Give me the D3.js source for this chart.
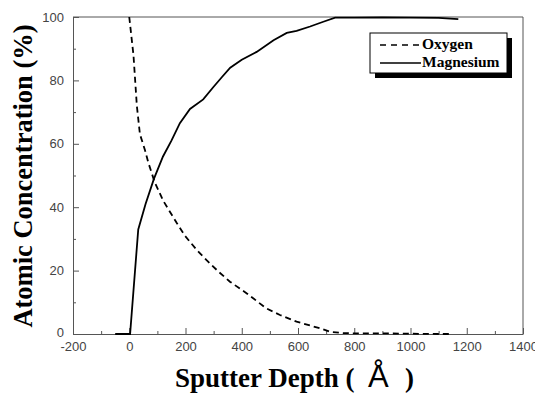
<!DOCTYPE html>
<html>
<head>
<meta charset="utf-8">
<script src="https://cdn.jsdelivr.net/npm/d3@7"></script>
<style>
  body { margin: 0; background: #fff; }
  .tick text { font-family: "Liberation Sans", Arial, sans-serif; font-size: 13px; fill: #444; }
</style>
</head>
<body>
<svg id="chart" width="535" height="394"></svg>
<script>
// sputter depth (angstrom) and concentration (%)
const oxygenDepth = [0, 15, 27, 38, 56, 68, 90, 121, 169, 198, 240, 275, 317, 358, 418, 487, 536, 595, 678, 714, 760, 800, 900, 1000, 1100, 1150];
const oxygenConc  = [100, 88, 72, 63, 58, 54, 48, 42, 35, 31, 26.5, 23.3, 19.7, 16.5, 12.8, 8.1, 6, 3.9, 1.8, 0.7, 0.3, 0.2, 0.2, 0.1, 0, 0];
const mgDepth = [-50, 3, 32, 58, 88, 120, 150, 180, 216, 263, 300, 329, 359, 400, 453, 513, 560, 595, 643, 690, 732, 800, 900, 1000, 1100, 1170];
const mgConc  = [0, 0, 33, 41, 49, 56, 61, 66.5, 71, 74, 78, 81, 84, 86.5, 89, 92.7, 95, 95.6, 97, 98.5, 99.8, 99.8, 99.9, 99.8, 99.7, 99.3];
const xTicks = [-200, 0, 200, 400, 600, 800, 1000, 1200, 1400];
const yTicks = [0, 20, 40, 60, 80, 100];
const seriesNames = ['Oxygen', 'Magnesium'];

const svg = d3.select('#chart');
const margin = { top: 17, right: 12, bottom: 60, left: 73 };
const width = 535, height = 394;
const contentWidth = width - margin.left - margin.right;
const contentHeight = height - margin.top - margin.bottom;

const g = svg.append('g')
  .attr('transform', 'translate(' + margin.left + ',' + margin.top + ')');

const xScale = d3.scaleLinear().domain([-200, 1400]).range([0, contentWidth]);
const yScale = d3.scaleLinear().domain([0, 100]).range([contentHeight, 0]);

// frame (top + right)
g.append('path')
  .attr('d', 'M0,0 H' + contentWidth + ' V' + contentHeight)
  .attr('fill', 'none').attr('stroke', '#555').attr('stroke-width', 1);

// minor ticks
const xMinor = d3.range(-100, 1400, 200);
const yMinor = d3.range(10, 100, 20);
g.append('g').attr('transform', 'translate(0,' + contentHeight + ')')
  .call(d3.axisBottom(xScale).tickValues(xMinor).tickSize(-3).tickFormat(''))
  .call(s => s.select('.domain').remove())
  .selectAll('line').attr('stroke', '#555');
g.append('g')
  .call(d3.axisLeft(yScale).tickValues(yMinor).tickSize(-3).tickFormat(''))
  .call(s => s.select('.domain').remove())
  .selectAll('line').attr('stroke', '#555');

// main axes
const xAxis = g.append('g').attr('class', 'x axis')
  .attr('transform', 'translate(0,' + contentHeight + ')')
  .call(d3.axisBottom(xScale).tickValues(xTicks).tickSizeInner(-6).tickSizeOuter(0).tickPadding(8).tickFormat(d => String(d)));
xAxis.select('.domain').attr('stroke', '#555');
xAxis.selectAll('line').attr('stroke', '#555');

const yAxis = g.append('g').attr('class', 'y axis')
  .call(d3.axisLeft(yScale).tickValues(yTicks).tickSizeInner(-6).tickSizeOuter(0).tickPadding(9));
yAxis.select('.domain').attr('stroke', '#555');
yAxis.selectAll('line').attr('stroke', '#555');
yAxis.selectAll('.tick').filter(d => d === 0).select('text').attr('dy', '0.2em');

// lines
const line = d3.line()
  .x(d => xScale(d[0]))
  .y(d => yScale(d[1]));

const oxygen = oxygenDepth.map((d, i) => [d, oxygenConc[i]]);
const magnesium = mgDepth.map((d, i) => [d, mgConc[i]]);

g.append('path')
  .datum(oxygen)
  .attr('fill', 'none').attr('stroke', '#000').attr('stroke-width', 1.8)
  .attr('stroke-dasharray', '6,4')
  .attr('d', line);

g.append('path')
  .datum(magnesium)
  .attr('fill', 'none').attr('stroke', '#000').attr('stroke-width', 1.8)
  .attr('d', line);

// legend
const lg = svg.append('g').attr('transform', 'translate(370,33)');
lg.append('rect').attr('x', 5).attr('y', 5).attr('width', 137).attr('height', 40).attr('fill', '#000');
lg.append('rect').attr('x', 0).attr('y', 0).attr('width', 137).attr('height', 40)
  .attr('fill', '#fff').attr('stroke', '#000').attr('stroke-width', 1);
seriesNames.forEach((name, i) => {
  const yy = 12 + i * 18;
  lg.append('line').attr('x1', 10).attr('x2', 51).attr('y1', yy).attr('y2', yy)
    .attr('stroke', '#000').attr('stroke-width', 1.5)
    .attr('stroke-dasharray', i === 0 ? '6,5' : null);
  lg.append('text').attr('x', 52).attr('y', yy + 4)
    .attr('font-family', '"Liberation Serif", "Times New Roman", serif')
    .attr('font-weight', 'bold').attr('font-size', 15.5)
    .text(name);
});

// axis titles
svg.append('text')
  .attr('transform', 'translate(32,176) rotate(-90)')
  .attr('text-anchor', 'middle')
  .attr('font-family', '"Liberation Serif", "Times New Roman", serif')
  .attr('font-weight', 'bold').attr('font-size', 26.5)
  .text('Atomic Concentration (%)');

const titleFont = '"Liberation Serif", "Times New Roman", serif';
svg.append('text')
  .attr('x', 175).attr('y', 387)
  .attr('font-family', titleFont)
  .attr('font-weight', 'bold').attr('font-size', 27)
  .text('Sputter Depth (');
svg.append('text')
  .attr('x', 368).attr('y', 387)
  .attr('font-family', '"Liberation Sans", Arial, sans-serif')
  .attr('font-size', 31)
  .text('Å');
svg.append('text')
  .attr('x', 405).attr('y', 387)
  .attr('font-family', titleFont)
  .attr('font-weight', 'bold').attr('font-size', 27)
  .text(')');
</script>
</body>
</html>
